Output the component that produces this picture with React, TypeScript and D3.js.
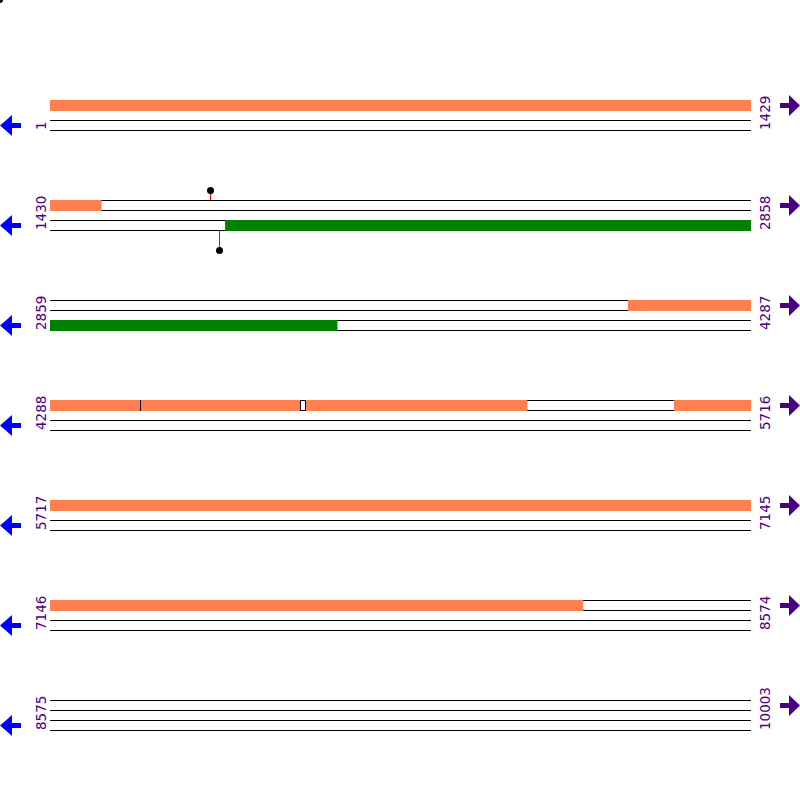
import { scaleLinear } from 'd3'

const width = 800
const height = 800

// one row per 1429 bp
const rowStarts = [1, 1430, 2859, 4288, 5717, 7146, 8575]
const rowEnds = [1429, 2858, 4287, 5716, 7145, 8574, 10003]

// [start, end] in bp
const forwardFeatures = [
  [1, 1534],
  [4037, 4471],
  [4473, 4798],
  [4810, 5260],
  [5560, 8232]
]
const reverseFeatures = [[1787, 3444]]

// little ticks between neighbouring forward features
const forwardMarks = [4472.5, 4798.6, 4808.8]

const forwardSites = [1757]
const reverseSites = [1775]

const margin = { left: 50, right: 49 }
const rowTop = 100
const rowStep = 100
const trackH = 10

function App() {
  const rowSpan = 1429

  const rowOf = (pos: number) => rowStarts.findIndex((s, i) => pos >= s && pos <= rowEnds[i])

  const xScaleFor = (i: number) =>
    scaleLinear()
      .domain([rowStarts[i], rowStarts[i] + rowSpan])
      .range([margin.left, width - margin.right])

  const crisp = (v: number) => Math.floor(v) + 0.5

  return (
    <svg width={width} height={height} style={{ position: 'absolute', left: 0, top: 0 }}>
      <rect width={width} height={height} fill="white" />
      <circle cx={0} cy={0} r={3} fill="black" />
      {rowStarts.map((start, i) => {
        const x = xScaleFor(i)
        const y0 = rowTop + i * rowStep
        const end = rowEnds[i]
        const seg = (feats: number[][]) =>
          feats
            .filter(([s, e]) => e >= start && s <= end)
            .map(([s, e]) => [x(Math.max(s, start)), x(Math.min(e + 1, start + rowSpan))])
        const fwd = seg(forwardFeatures)
        const rev = seg(reverseFeatures)
        const marks = forwardMarks.filter(m => m >= start && m <= end + 1)
        const fSites = forwardSites.filter(s => rowOf(s) === i)
        const rSites = reverseSites.filter(s => rowOf(s) === i)
        return (
          <g key={start}>
            {[0, 1, 2, 3].map(k => (
              <line
                key={k}
                x1={margin.left}
                x2={width - margin.right}
                y1={y0 + k * trackH + 0.5}
                y2={y0 + k * trackH + 0.5}
                stroke="black"
              />
            ))}
            {fwd.map(([a, b]) => (
              <rect key={a} x={a} y={y0} width={b - a} height={trackH + 1} fill="#FF7F50" />
            ))}
            {rev.map(([a, b]) => (
              <rect key={a} x={a} y={y0 + 2 * trackH} width={b - a} height={trackH + 1} fill="green" />
            ))}
            {marks.map(m => (
              <line
                key={m}
                x1={crisp(x(m))}
                x2={crisp(x(m))}
                y1={y0}
                y2={y0 + trackH + 1}
                stroke="black"
              />
            ))}
            {fSites.map(s => (
              <g key={s}>
                <circle cx={crisp(x(s))} cy={y0 - 9.5} r={3.5} fill="black" />
                <line x1={crisp(x(s))} x2={crisp(x(s))} y1={y0 - 6} y2={y0} stroke="red" />
              </g>
            ))}
            {rSites.map(s => (
              <g key={s}>
                <circle cx={crisp(x(s))} cy={y0 + 50.5} r={3.5} fill="black" />
                <line x1={crisp(x(s))} x2={crisp(x(s))} y1={y0 + 3 * trackH + 1} y2={y0 + 47} stroke="red" />
              </g>
            ))}
            <text
              transform={`translate(46, ${y0 + 30}) rotate(-90)`}
              fill="#4B0082"
              fontFamily="DejaVu Sans"
              fontSize={13.5}
            >
              {start}
            </text>
            <text
              transform={`translate(770, ${y0 + 30}) rotate(-90)`}
              fill="#4B0082"
              fontFamily="DejaVu Sans"
              fontSize={13.5}
            >
              {end}
            </text>
            <path
              d={`M0,${y0 + 25.5} L12,${y0 + 15} L12,${y0 + 23} L21,${y0 + 23} L21,${y0 + 28} L12,${y0 + 28} L12,${y0 + 36} Z`}
              fill="blue"
            />
            <path
              d={`M800,${y0 + 5.5} L789,${y0 - 5} L789,${y0 + 3} L780,${y0 + 3} L780,${y0 + 8} L789,${y0 + 8} L789,${y0 + 16} Z`}
              fill="#4B0082"
            />
          </g>
        )
      })}
    </svg>
  )
}

export default App
